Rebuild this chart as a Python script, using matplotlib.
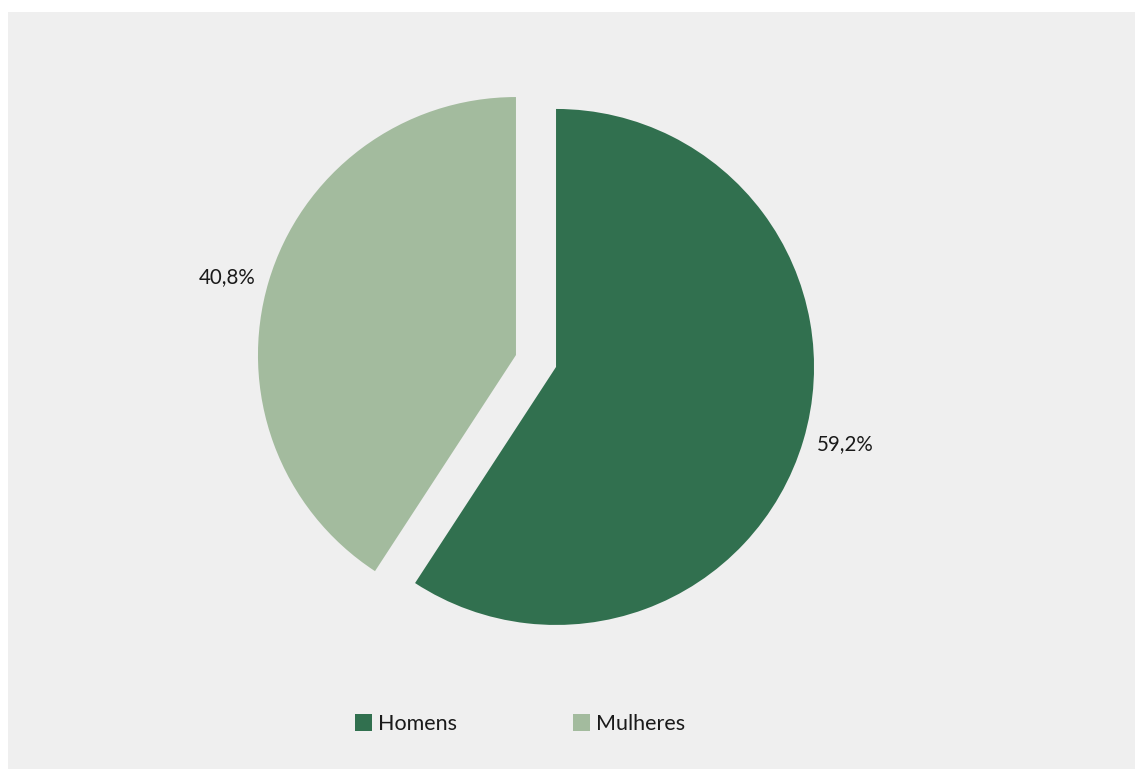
import matplotlib.pyplot as plt
from matplotlib.patches import Rectangle, Patch

# Distribution by sex
categories = ["Homens", "Mulheres"]
shares = [59.2, 40.8]
colors = ["#31704f", "#a3bb9e"]

W, H, DPI = 1135, 769, 100
fig = plt.figure(figsize=(W / DPI, H / DPI), dpi=DPI, facecolor="white")

# grey panel behind the chart
fig.patches.append(Rectangle((8 / W, 0), 1 - 8 / W, 1 - 12 / H,
                             transform=fig.transFigure, facecolor="#efefef",
                             edgecolor="none", zorder=-10))

plt.rcParams["font.family"] = ["Lato", "DejaVu Sans"]

ax = fig.add_axes([0, 0, 1, 1])
ax.patch.set_alpha(0)
ax.set_zorder(1)

pct_labels = [f"{v:.1f}%".replace(".", ",") for v in shares]

wedges, texts = ax.pie(
    shares,
    labels=pct_labels,
    colors=colors,
    startangle=90,
    counterclock=False,
    explode=[0.081, 0.081],
    radius=1.0,
    labeldistance=1.055,
    textprops=dict(fontsize=14.8, color="#1a1a1a"),
    wedgeprops=dict(linewidth=0),
)

# map data units to pixels: 258 px per unit, pie centre at (536, 361)
scale = 258.0
cx, cy = 536.0, 361.0
ax.set_xlim(-cx / scale, (W - cx) / scale)
ax.set_ylim(-(H - cy) / scale, cy / scale)
ax.set_aspect("auto")
ax.axis("off")

handles = [Patch(facecolor=c, edgecolor="none") for c in colors]
fig.legend(handles, categories, loc="center",
           bbox_to_anchor=(520 / W, 1 - 724 / H), ncol=2, frameon=False,
           prop=dict(size=15.5), labelcolor="#1a1a1a",
           handlelength=0.8, handleheight=0.8, handletextpad=0.28,
           columnspacing=5.4)

fig.savefig("out.png", dpi=DPI, facecolor="white")
